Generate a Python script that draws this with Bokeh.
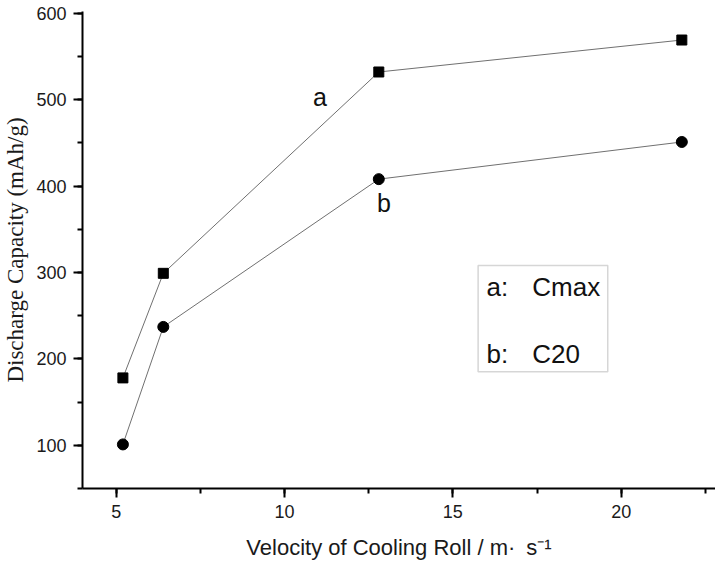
from bokeh.plotting import figure
from bokeh.models import Range1d, SingleIntervalTicker, BoxAnnotation, Label
from bokeh.embed import file_html
from bokeh.resources import INLINE

# data
velocity = [5.2, 6.4, 12.8, 21.8]
cmax = [178, 299, 532, 569]
c20 = [101, 237, 408, 451]
series_tags = ["a", "b"]
legend_keys = ["a:", "b:"]
legend_names = ["Cmax", "C20"]
x_title = "Velocity of Cooling Roll / m\u00b7\u2002s\u207b\u00b9"
y_title = "Discharge Capacity (mAh/g)"

p = figure(width=715, height=563, x_range=Range1d(4, 22.8), y_range=Range1d(50, 602),
           output_backend="svg", toolbar_location=None,
           min_border_left=82, min_border_right=0, min_border_top=11, min_border_bottom=75)
p.outline_line_color = None
p.xgrid.visible = False
p.ygrid.visible = False
p.background_fill_color = "white"

p.line(velocity, cmax, line_color="#707070", line_width=1)
p.line(velocity, c20, line_color="#707070", line_width=1)
p.scatter(velocity, cmax, marker="square", size=10, fill_color="black", line_color="black")
p.scatter(velocity, c20, marker="circle", size=11, fill_color="black", line_color="black")

for ax, interval in ((p.xaxis[0], 5), (p.yaxis[0], 100)):
    ax.ticker = SingleIntervalTicker(interval=interval, num_minor_ticks=2)
    ax.axis_line_width = 2
    ax.major_tick_line_width = 2
    ax.minor_tick_line_width = 2
    ax.major_tick_out = 9
    ax.major_tick_in = 0
    ax.minor_tick_out = 5
    ax.minor_tick_in = 0
    ax.major_label_text_font = "Liberation Sans"
    ax.major_label_text_font_size = "18px"
    ax.major_label_text_color = "#1a1a1a"
    ax.major_label_standoff = 7

p.xaxis.axis_label = x_title
p.xaxis.axis_label_text_font = "Liberation Sans"
p.xaxis.axis_label_text_font_style = "normal"
p.xaxis.axis_label_text_font_size = "22px"
p.xaxis.axis_label_text_color = "#1a1a1a"
p.xaxis.axis_label_standoff = 14

p.yaxis.axis_label = y_title
p.yaxis.axis_label_text_font = "Liberation Serif"
p.yaxis.axis_label_text_font_style = "normal"
p.yaxis.axis_label_text_font_size = "23px"
p.yaxis.axis_label_text_color = "#1a1a1a"
p.yaxis.axis_label_standoff = 5

# series tags
tag_pos = [(11.05, 503), (12.95, 380)]
for t, (tx, ty) in zip(series_tags, tag_pos):
    p.add_layout(Label(x=tx, y=ty, text=t, text_font="Liberation Sans", text_font_size="25px",
                       text_align="center", text_baseline="middle", text_color="#111111"))

# legend box
p.add_layout(BoxAnnotation(left=15.75, right=19.6, top=308, bottom=185,
                           fill_alpha=0, line_color="#777777", line_width=1.5))
key_y = [283, 206]
for k, n, ky in zip(legend_keys, legend_names, key_y):
    p.add_layout(Label(x=16.0, y=ky, text=k, text_font="Liberation Sans", text_font_size="26px",
                       text_align="left", text_baseline="middle", text_color="#111111"))
    p.add_layout(Label(x=17.36, y=ky, text=n, text_font="Liberation Sans", text_font_size="26px",
                       text_align="left", text_baseline="middle", text_color="#111111"))

open("out.html", "w").write(file_html(p, INLINE))
